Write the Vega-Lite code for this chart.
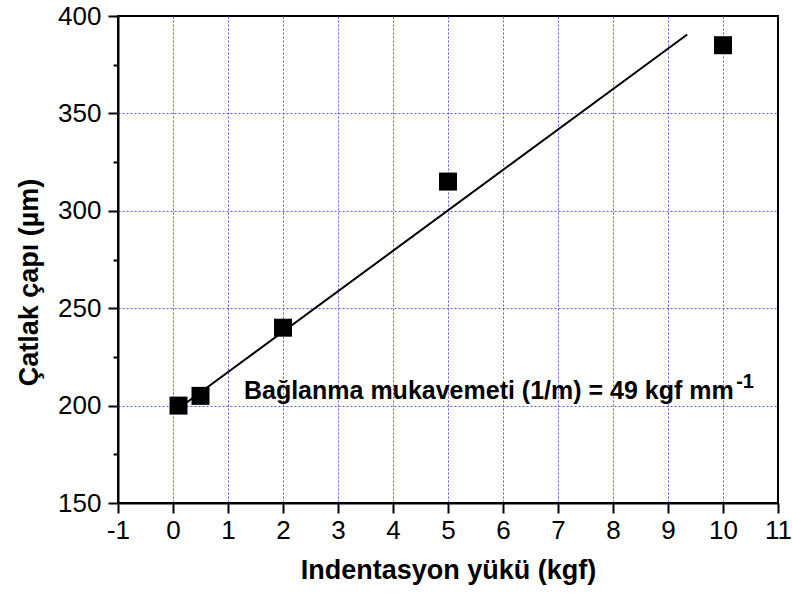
{
  "$schema": "https://vega.github.io/schema/vega-lite/v6.json",
  "width": 660,
  "height": 487,
  "autosize": {"type": "none"},
  "padding": {"left": 118, "top": 16, "right": 14, "bottom": 98},
  "background": "white",
  "config": {
    "font": "Liberation Sans",
    "view": {"stroke": "black", "strokeWidth": 2},
    "axis": {
      "domainColor": "black",
      "domainWidth": 2,
      "tickColor": "black",
      "tickWidth": 2,
      "gridColor": "#5555ff",
      "gridDash": [2, 2],
      "gridWidth": 1,
      "labelFont": "Liberation Sans",
      "labelFontSize": 26,
      "labelColor": "black",
      "titleFont": "Liberation Sans",
      "titleFontSize": 27,
      "titleFontWeight": "bold",
      "titleColor": "black"
    }
  },
  "datasets": {
    "pts": [
      {"load": 0.1, "diam": 200},
      {"load": 0.5, "diam": 205},
      {"load": 2, "diam": 240},
      {"load": 5, "diam": 315},
      {"load": 10, "diam": 385}
    ],
    "fit": [
      {"load": 0.1, "diam": 198.5},
      {"load": 9.35, "diam": 390.5}
    ],
    "ann": [
      {"load": 1.29, "diam": 203.4, "label": "Bağlanma mukavemeti (1/m) = 49 kgf mm"}
    ],
    "sup": [
      {"load": 10.24, "diam": 209, "label": "-1"}
    ]
  },
  "layer": [
    {
      "data": {"name": "pts"},
      "mark": {"type": "square", "size": 324, "color": "black", "opacity": 1, "filled": true},
      "encoding": {
        "x": {
          "field": "load",
          "type": "quantitative",
          "scale": {"domain": [-1, 11], "nice": false, "zero": false},
          "axis": {
            "title": "Indentasyon yükü (kgf)",
            "values": [-1, -0.5, 0, 0.5, 1, 1.5, 2, 2.5, 3, 3.5, 4, 4.5, 5, 5.5, 6, 6.5, 7, 7.5, 8, 8.5, 9, 9.5, 10, 10.5, 11],
            "labelExpr": "datum.value % 1 === 0 ? '' + datum.value : ''",
            "tickSize": {"condition": {"test": "datum.value % 1 === 0", "value": 10}, "value": 5},
            "gridOpacity": {"condition": {"test": "datum.value % 1 === 0 && datum.value > -1 && datum.value < 11", "value": 1}, "value": 0},
            "labelPadding": 4,
            "labelFlush": false,
            "titlePadding": 14
          }
        },
        "y": {
          "field": "diam",
          "type": "quantitative",
          "scale": {"domain": [150, 400], "nice": false, "zero": false},
          "axis": {
            "title": "Çatlak çapı (µm)",
            "values": [150, 175, 200, 225, 250, 275, 300, 325, 350, 375, 400],
            "labelExpr": "datum.value % 50 === 0 ? '' + datum.value : ''",
            "tickSize": {"condition": {"test": "datum.value % 50 === 0", "value": 10}, "value": 5},
            "gridOpacity": {"condition": {"test": "datum.value % 50 === 0 && datum.value > 150 && datum.value < 400", "value": 1}, "value": 0},
            "labelPadding": 7,
            "labelFlush": false,
            "titlePadding": 14,
            "titleY": 266
          }
        }
      }
    },
    {
      "data": {"name": "fit"},
      "mark": {"type": "line", "color": "black", "strokeWidth": 2},
      "encoding": {
        "x": {"field": "load", "type": "quantitative"},
        "y": {"field": "diam", "type": "quantitative"}
      }
    },
    {
      "data": {"name": "ann"},
      "mark": {"type": "text", "align": "left", "baseline": "alphabetic", "fontSize": 25, "fontWeight": "bold", "color": "black", "font": "Liberation Sans"},
      "encoding": {
        "x": {"field": "load", "type": "quantitative"},
        "y": {"field": "diam", "type": "quantitative"},
        "text": {"field": "label"}
      }
    },
    {
      "data": {"name": "sup"},
      "mark": {"type": "text", "align": "left", "baseline": "alphabetic", "fontSize": 20, "fontWeight": "bold", "color": "black", "font": "Liberation Sans"},
      "encoding": {
        "x": {"field": "load", "type": "quantitative"},
        "y": {"field": "diam", "type": "quantitative"},
        "text": {"field": "label"}
      }
    }
  ]
}
